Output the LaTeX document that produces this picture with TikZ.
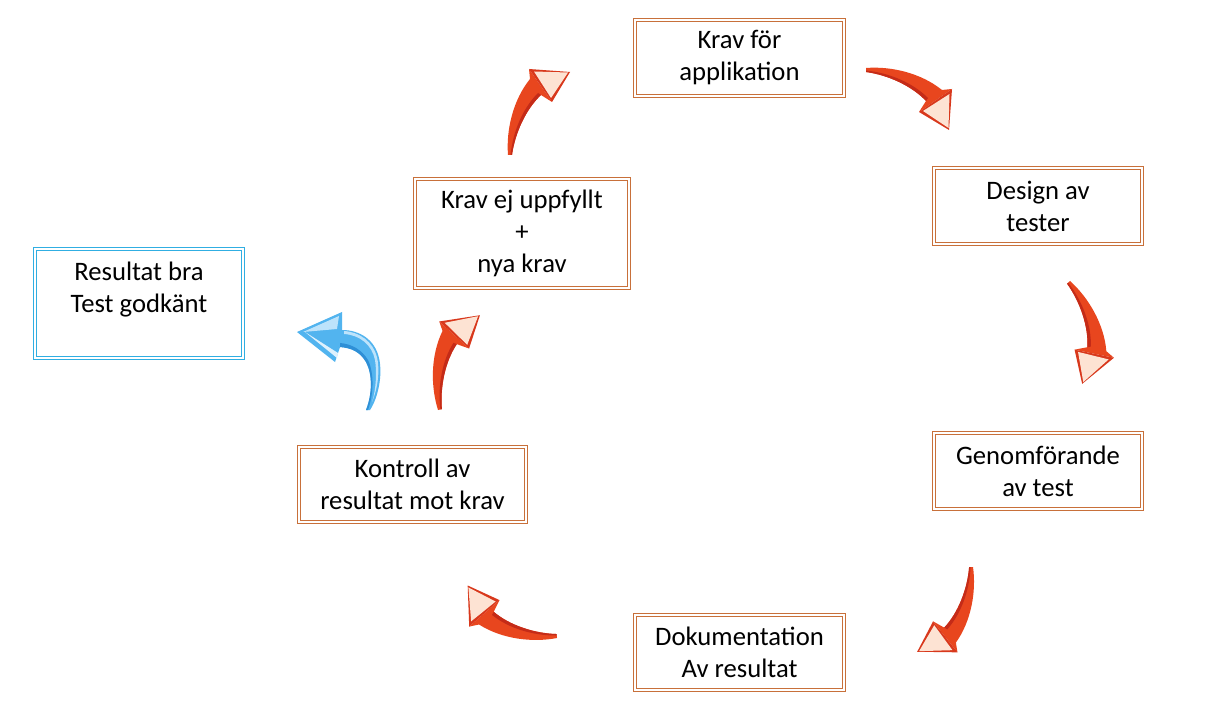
\documentclass[tikz,border=0pt]{standalone}
\usepackage{fontspec}
\setmainfont{Carlito}
\definecolor{boxorange}{HTML}{C8703A}
\definecolor{boxblue}{HTML}{30AEE2}
\definecolor{rbody}{HTML}{E8461E}
\definecolor{rdark}{HTML}{C42B18}
\definecolor{rhead}{HTML}{D8381C}
\definecolor{rlight}{HTML}{FDE3D3}
\definecolor{bbody}{HTML}{52B4EF}
\definecolor{bdark}{HTML}{2E8FD6}
\definecolor{bhead}{HTML}{45A8EC}
\definecolor{blight}{HTML}{BDE3FB}
\newcommand\curvedarrow[7]{%
\begin{scope}[shift={(#1,#2)},
  x={({0.75*(#3)*1pt},{-0.75*(#4)*1pt})},
  y={({0.75*(#5)*1pt},{-0.75*(#6)*1pt})}]
 \fill[#7body] (0,0) .. controls (-2,25) and (5,55) .. (22,76) -- (21,86) -- (44,53) -- (33,60)
   .. controls (18,46) and (7,22) .. (4,0) -- cycle;
 \fill[#7dark] (33,60) .. controls (18,46) and (7,22) .. (4,0) -- (2.5,0)
   .. controls (5,24) and (15,47) .. (30,62) -- cycle;
 \fill[#7head] (21,86) -- (62,83) -- (44,53) -- cycle;
 \fill[#7light] (26,83.5) -- (60,82.5) -- (43,57) -- cycle;
\end{scope}}
\tikzset{
  x=0.75pt, y=-0.75pt,
  bsize/.style 2 args={minimum width={(#1)*0.75pt-3.3pt}, minimum height={(#2)*0.75pt-3.3pt}},
  basebox/.style={rectangle, inner sep=0pt, align=center, line width=0.9pt,
    double=white, double distance=1.5pt, font=\fontsize{20}{24}\selectfont},
  obox/.style={basebox, draw=boxorange},
  bbox/.style={basebox, draw=boxblue},
}
\begin{document}
\begin{tikzpicture}
\useasboundingbox[fill=white] (0,0) rectangle (1227,723);
\node[obox, bsize={213}{80}] (req) at (739.5,58) {Krav för\\applikation};
\node[obox, bsize={212}{80}] (design) at (1038,206) {Design av\\tester};
\node[obox, bsize={212}{80}] (exec) at (1038,471) {Genomförande\\av test};
\node[obox, bsize={213}{79}] (doc) at (739.5,652.5) {Dokumentation\\Av resultat};
\node[obox, bsize={231}{79}] (check) at (412.5,484.5) {Kontroll av\\resultat mot krav};
\node[obox, bsize={218}{113}] (fail) at (522,233.5) {Krav ej uppfyllt\\+\\nya krav};
\node[bbox, bsize={212}{113}] (ok) at (139,303.5) {Resultat bra\\Test godkänt\\\mbox{}};
% red arrows of the cycle
\curvedarrow{508}{155}{1}{0}{0}{-1}{r}
\curvedarrow{866}{68}{0}{1}{1}{0}{r}
\curvedarrow{1070}{281}{-0.725}{0.688}{0.688}{0.725}{r}
\curvedarrow{973}{567}{-0.978}{0.058}{0.058}{0.978}{r}
\curvedarrow{557}{638}{-0.110}{-0.994}{-0.994}{0.110}{r}
\curvedarrow{438}{410}{0.975}{-0.223}{-0.223}{-0.975}{r}
% blue arrow
\fill[bbody] (366,410) .. controls (372,395) and (373,375) .. (366,362)
  .. controls (360,352) and (352,348) .. (340,347) -- (335,362) -- (297,332) -- (342,312) -- (342,330)
  .. controls (360,330) and (375,340) .. (379,358)
  .. controls (383,375) and (378,398) .. (370,410) -- cycle;
\fill[bdark] (366,410) .. controls (372,395) and (373,375) .. (366,362)
  .. controls (360,352) and (352,348) .. (340,347) -- (340,343)
  .. controls (352,344) and (362,350) .. (368,360)
  .. controls (375,375) and (373,396) .. (368,410) -- cycle;
\fill[blight] (344,334) .. controls (360,335) and (372,345) .. (375,360)
  .. controls (377,372) and (376,390) .. (372,402)
  .. controls (378,388) and (380,370) .. (377,357)
  .. controls (373,342) and (360,332) .. (344,331) -- cycle;
\fill[blight] (303,332) -- (339,316) -- (337,329) -- cycle;
\fill[white!50!blight] (305,332) -- (338,353) -- (337,358) -- cycle;
\end{tikzpicture}
\end{document}
